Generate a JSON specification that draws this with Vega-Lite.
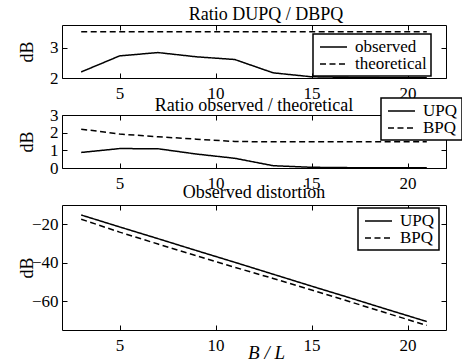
{
  "$schema": "https://vega.github.io/schema/vega-lite/v6.json",
  "background": "white",
  "padding": {"left": 17, "top": 5, "right": 0, "bottom": 0},
  "spacing": 37,
  "bounds": "flush",
  "config": {
    "font": "Liberation Serif, Times New Roman, serif",
    "view": {"stroke": "black", "strokeWidth": 1},
    "axis": {"domain": false, "grid": false, "tickSize": -5, "tickColor": "black", "tickWidth": 1,
      "labelFont": "Liberation Serif, Times New Roman, serif", "labelFontSize": 17, "labelColor": "black",
      "titleFont": "Liberation Serif, Times New Roman, serif", "titleFontSize": 18, "titleFontWeight": "normal", "titleColor": "black"},
    "axisX": {"labelPadding": 12},
    "axisY": {"labelPadding": 9, "minExtent": 24, "maxExtent": 24, "titlePadding": 2},
    "title": {"font": "Liberation Serif, Times New Roman, serif", "fontSize": 18, "fontWeight": "normal", "color": "black", "offset": 3},
    "legend": {"title": null, "symbolType": "M-0.75,0H2.625", "symbolSize": 256, "symbolStrokeColor": "black", "symbolStrokeWidth": 1.5,
      "labelFont": "Liberation Serif, Times New Roman, serif", "labelFontSize": 17, "labelColor": "black", "labelOffset": 20,
      "strokeColor": "black", "strokeWidth": 1.5, "fillColor": "white", "padding": 4, "rowPadding": 0},
    "line": {"color": "black", "strokeWidth": 1.5}
  },
  "resolve": {"scale": {"strokeDash": "independent"}},
  "vconcat": [
    {
      "width": 384, "height": 53,
      "title": {"text": "Ratio DUPQ / DBPQ", "dx": 12, "offset": 1},
      "data": {"values": [
        {"BL": 3, "series": "observed", "dB": 2.2},
        {"BL": 5, "series": "observed", "dB": 2.73},
        {"BL": 7, "series": "observed", "dB": 2.84},
        {"BL": 9, "series": "observed", "dB": 2.7},
        {"BL": 11, "series": "observed", "dB": 2.61},
        {"BL": 13, "series": "observed", "dB": 2.17},
        {"BL": 15, "series": "observed", "dB": 2.04},
        {"BL": 17, "series": "observed", "dB": 2.02},
        {"BL": 19, "series": "observed", "dB": 2.01},
        {"BL": 21, "series": "observed", "dB": 2.01},
        {"BL": 3, "series": "theoretical", "dB": 3.53},
        {"BL": 5, "series": "theoretical", "dB": 3.53},
        {"BL": 7, "series": "theoretical", "dB": 3.53},
        {"BL": 9, "series": "theoretical", "dB": 3.53},
        {"BL": 11, "series": "theoretical", "dB": 3.53},
        {"BL": 13, "series": "theoretical", "dB": 3.53},
        {"BL": 15, "series": "theoretical", "dB": 3.53},
        {"BL": 17, "series": "theoretical", "dB": 3.53},
        {"BL": 19, "series": "theoretical", "dB": 3.53},
        {"BL": 21, "series": "theoretical", "dB": 3.53}
      ]},
      "layer": [
        {"mark": {"type": "line"},
         "encoding": {
           "x": {"field": "BL", "type": "quantitative", "scale": {"domain": [2, 22], "nice": false, "zero": false}, "axis": {"values": [5, 10, 15, 20], "title": null}},
           "y": {"field": "dB", "type": "quantitative", "scale": {"domain": [2, 3.75], "nice": false, "zero": false}, "axis": {"values": [2, 3], "title": "dB"}},
           "strokeDash": {"field": "series", "type": "nominal", "scale": {"domain": ["observed", "theoretical"], "range": [[1, 0], [6, 3.5]]},
             "legend": {"orient": "none", "legendX": 251, "legendY": 9}}
         }},
        {"mark": {"type": "point", "opacity": 0},
         "encoding": {
           "x": {"field": "BL", "type": "quantitative", "axis": {"orient": "top", "labels": false, "title": null, "values": [5, 10, 15, 20], "minExtent": 0, "maxExtent": 0}},
           "y": {"field": "dB", "type": "quantitative", "axis": {"orient": "right", "labels": false, "title": null, "values": [2, 3], "minExtent": 0, "maxExtent": 0}}
         }}
      ],
      "resolve": {"axis": {"x": "independent", "y": "independent"}}
    },
    {
      "width": 384, "height": 53,
      "title": {"text": "Ratio observed / theoretical", "offset": -18},
      "data": {"values": [
        {"BL": 3, "series": "UPQ", "dB": 0.88},
        {"BL": 5, "series": "UPQ", "dB": 1.1},
        {"BL": 7, "series": "UPQ", "dB": 1.09},
        {"BL": 9, "series": "UPQ", "dB": 0.79},
        {"BL": 11, "series": "UPQ", "dB": 0.55},
        {"BL": 13, "series": "UPQ", "dB": 0.13},
        {"BL": 15, "series": "UPQ", "dB": 0.04},
        {"BL": 17, "series": "UPQ", "dB": 0.02},
        {"BL": 19, "series": "UPQ", "dB": 0.01},
        {"BL": 21, "series": "UPQ", "dB": 0.01},
        {"BL": 3, "series": "BPQ", "dB": 2.2},
        {"BL": 5, "series": "BPQ", "dB": 1.92},
        {"BL": 7, "series": "BPQ", "dB": 1.77},
        {"BL": 9, "series": "BPQ", "dB": 1.63},
        {"BL": 11, "series": "BPQ", "dB": 1.5},
        {"BL": 13, "series": "BPQ", "dB": 1.48},
        {"BL": 15, "series": "BPQ", "dB": 1.48},
        {"BL": 17, "series": "BPQ", "dB": 1.48},
        {"BL": 19, "series": "BPQ", "dB": 1.48},
        {"BL": 21, "series": "BPQ", "dB": 1.48}
      ]},
      "layer": [
        {"mark": {"type": "line"},
         "encoding": {
           "x": {"field": "BL", "type": "quantitative", "scale": {"domain": [2, 22], "nice": false, "zero": false}, "axis": {"values": [5, 10, 15, 20], "title": null}},
           "y": {"field": "dB", "type": "quantitative", "scale": {"domain": [0, 3], "nice": false, "zero": false}, "axis": {"values": [0, 1, 2, 3], "title": "dB"}},
           "strokeDash": {"field": "series", "type": "nominal", "scale": {"domain": ["UPQ", "BPQ"], "range": [[1, 0], [6, 3.5]]},
             "legend": {"orient": "none", "legendX": 319, "legendY": -17}}
         }},
        {"mark": {"type": "point", "opacity": 0},
         "encoding": {
           "x": {"field": "BL", "type": "quantitative", "axis": {"orient": "top", "labels": false, "title": null, "values": [5, 10, 15, 20], "minExtent": 0, "maxExtent": 0}},
           "y": {"field": "dB", "type": "quantitative", "axis": {"orient": "right", "labels": false, "title": null, "values": [0, 1, 2, 3], "minExtent": 0, "maxExtent": 0}}
         }}
      ],
      "resolve": {"axis": {"x": "independent", "y": "independent"}}
    },
    {
      "width": 384, "height": 125,
      "title": "Observed distortion",
      "data": {"values": [
        {"BL": 3, "series": "UPQ", "dB": -15.2},
        {"BL": 5, "series": "UPQ", "dB": -21.4},
        {"BL": 7, "series": "UPQ", "dB": -27.5},
        {"BL": 9, "series": "UPQ", "dB": -33.7},
        {"BL": 11, "series": "UPQ", "dB": -39.8},
        {"BL": 13, "series": "UPQ", "dB": -46.0},
        {"BL": 15, "series": "UPQ", "dB": -52.2},
        {"BL": 17, "series": "UPQ", "dB": -58.3},
        {"BL": 19, "series": "UPQ", "dB": -64.5},
        {"BL": 21, "series": "UPQ", "dB": -70.6},
        {"BL": 3, "series": "BPQ", "dB": -17.4},
        {"BL": 5, "series": "BPQ", "dB": -24.1},
        {"BL": 7, "series": "BPQ", "dB": -30.3},
        {"BL": 9, "series": "BPQ", "dB": -36.4},
        {"BL": 11, "series": "BPQ", "dB": -42.4},
        {"BL": 13, "series": "BPQ", "dB": -48.2},
        {"BL": 15, "series": "BPQ", "dB": -54.2},
        {"BL": 17, "series": "BPQ", "dB": -60.3},
        {"BL": 19, "series": "BPQ", "dB": -66.5},
        {"BL": 21, "series": "BPQ", "dB": -72.6}
      ]},
      "layer": [
        {"mark": {"type": "line"},
         "encoding": {
           "x": {"field": "BL", "type": "quantitative", "scale": {"domain": [2, 22], "nice": false, "zero": false},
             "axis": {"values": [5, 10, 15, 20], "title": "B / L", "titleFontStyle": "italic", "titleFontSize": 19, "titleX": 204, "titleY": 28, "titleBaseline": "alphabetic"}},
           "y": {"field": "dB", "type": "quantitative", "scale": {"domain": [-75, -10], "nice": false, "zero": false}, "axis": {"values": [-20, -40, -60], "title": "dB"}},
           "strokeDash": {"field": "series", "type": "nominal", "scale": {"domain": ["UPQ", "BPQ"], "range": [[1, 0], [6, 3.5]]},
             "legend": {"orient": "none", "legendX": 296, "legendY": 3}}
         }},
        {"mark": {"type": "point", "opacity": 0},
         "encoding": {
           "x": {"field": "BL", "type": "quantitative", "axis": {"orient": "top", "labels": false, "title": null, "values": [5, 10, 15, 20], "minExtent": 0, "maxExtent": 0}},
           "y": {"field": "dB", "type": "quantitative", "axis": {"orient": "right", "labels": false, "title": null, "values": [-20, -40, -60], "minExtent": 0, "maxExtent": 0}}
         }}
      ],
      "resolve": {"axis": {"x": "independent", "y": "independent"}}
    }
  ]
}
